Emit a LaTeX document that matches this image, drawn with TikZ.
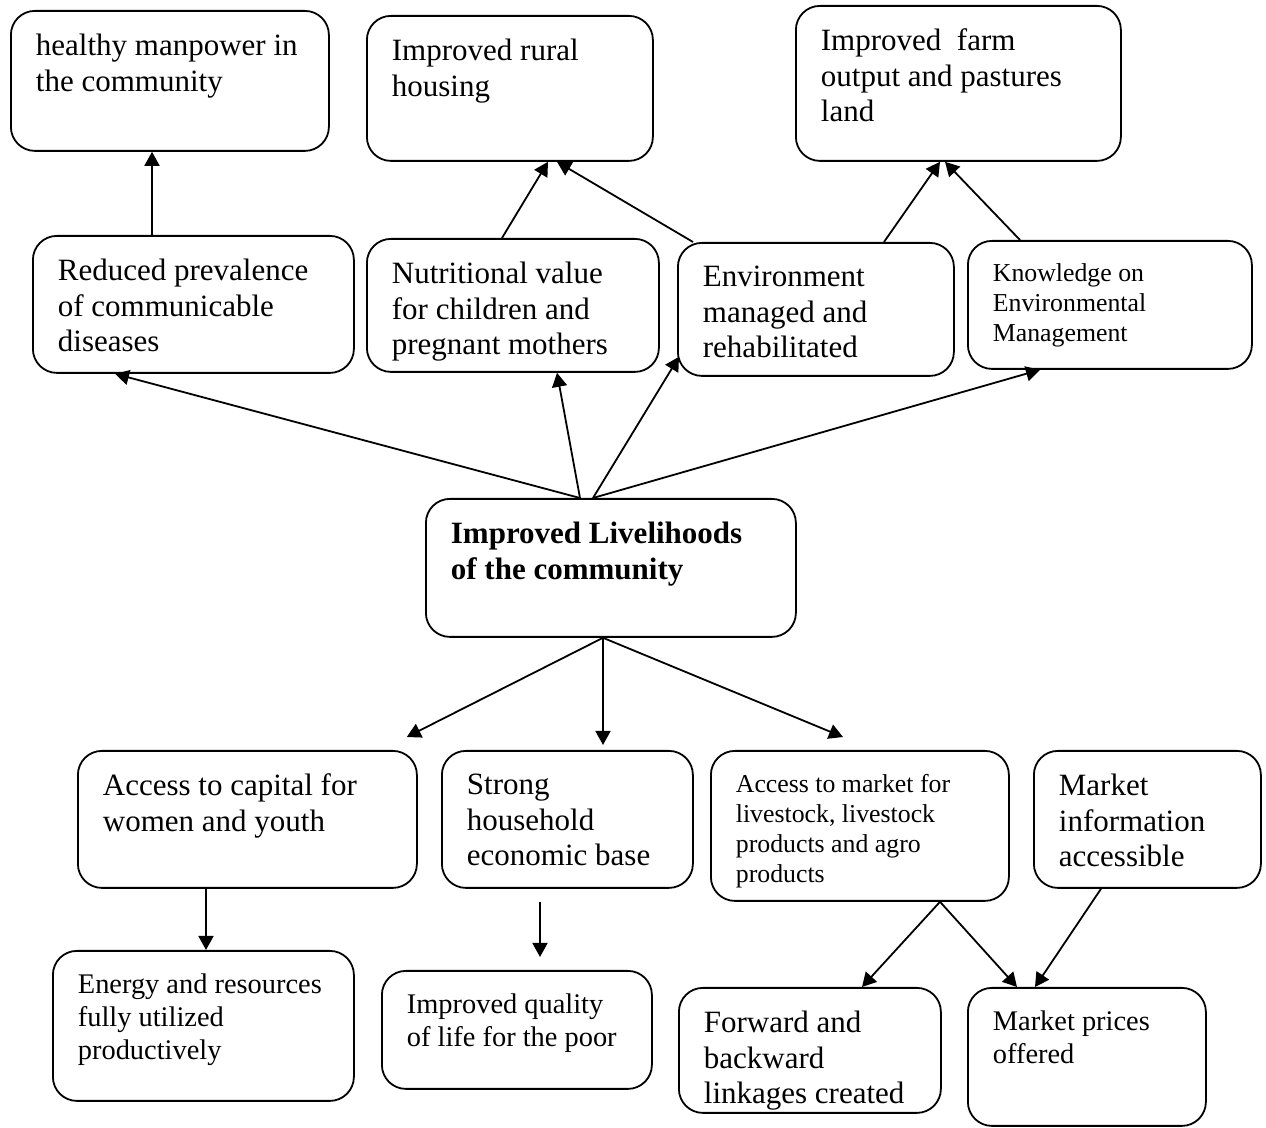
\documentclass[tikz,border=0pt]{standalone}
\usepackage{fontspec}
\setmainfont{Liberation Serif}
\usetikzlibrary{arrows.meta,calc}

\begin{document}
\begin{tikzpicture}[x=0.5pt,y=-0.5pt,
  box/.style 2 args={draw,line width=0.9pt,rounded corners=12pt,anchor=north west,
    inner xsep=12.5pt,inner ysep=11.5pt,
    execute at begin node={\begin{minipage}[c][#2][t]{#1}\raggedright},
    execute at end node={\end{minipage}}},
  big/.style={font=\fontsize{15.5}{17.8}\selectfont},
  mid/.style={font=\fontsize{14.2}{16.4}\selectfont},
  small/.style={font=\fontsize{12.9}{15}\selectfont},
  link/.style={-{Triangle[length=7pt,width=7.5pt]},line width=0.9pt}]
\useasboundingbox (0,0) rectangle (1266,1128);
% top row
\draw (10,10) node (b1) [box={134pt}{47pt},big] {healthy manpower in\newline the community};
\draw (366,15) node (b2) [box={118pt}{49.5pt},big] {Improved rural\newline housing};
\draw (795,5) node (b3) [box={137.5pt}{54.5pt},big] {Improved\ \ farm\newline output and pastures\newline land};
% second row
\draw (32,235) node (b4) [box={135.5pt}{45.5pt},big] {Reduced prevalence\newline of communicable\newline diseases};
\draw (366,238) node (b5) [box={121pt}{43.5pt},big] {Nutritional value\newline for children and\newline pregnant mothers};
\draw (677,242) node (b6) [box={113pt}{43.5pt},big] {Environment\newline managed and\newline rehabilitated};
\draw (967,240) node (b7) [box={117pt}{41pt},small] {Knowledge on\newline Environmental\newline Management};
% centre
\draw (425,498) node (b8) [box={160pt}{46pt},big,font=\fontsize{15.5}{17.8}\selectfont\bfseries] {Improved Livelihoods\newline of the community};
% third row
\draw (77,750) node (b9) [box={144.5pt}{45.5pt},big] {Access to capital for\newline women and youth};
\draw (441,750) node (b10) [box={100.5pt}{45.5pt},big] {Strong\newline household\newline economic base};
\draw (710,750) node (b11) [box={124pt}{52pt},small] {Access to market for\newline livestock, livestock\newline products and agro\newline products};
\draw (1033,750) node (b12) [box={88.5pt}{45.5pt},big] {Market\newline information\newline accessible};
% bottom row
\draw (52,950) node (b13) [box={125.5pt}{52pt},mid] {Energy and resources\newline fully utilized\newline productively};
\draw (381,970) node (b14) [box={110pt}{36pt},mid] {Improved quality\newline of life for the poor};
\draw (678,987) node (b15) [box={106pt}{39.5pt},big] {Forward and\newline backward\newline linkages created};
\draw (967,987) node (b16) [box={94pt}{46pt},mid] {Market prices\newline offered};
% links upwards
\draw[link] ($(b4.north west)+(120,0)$) -- ($(b1.south west)+(142,0)$);
\draw[link] ($(b5.north west)+(136,0)$) -- ($(b2.south west)+(182,0)$);
\draw[link] ($(b6.north west)+(16,0)$) -- ($(b2.south west)+(191,0)$);
\draw[link] ($(b6.north west)+(207,0)$) -- ($(b3.south west)+(145,0)$);
\draw[link] ($(b7.north west)+(53,0)$) -- ($(b3.south west)+(150,0)$);
\draw[link] ($(b8.north west)+(155,0)$) -- ($(b4.south west)+(83,0)$);
\draw[link] ($(b8.north west)+(155,0)$) -- ($(b5.south west)+(191,0)$);
\draw[link] ($(b8.north west)+(168,0)$) -- ($(b6.south west)+(2,-20)$);
\draw[link] ($(b8.north west)+(168,0)$) -- ($(b7.south west)+(73,0)$);
% links downwards
\draw[link] ($(b8.south west)+(178,0)$) -- ($(b9.north east)+(-11,-13)$);
\draw[link] ($(b8.south west)+(178,0)$) -- ($(b10.north west)+(162,-5)$);
\draw[link] ($(b8.south west)+(178,0)$) -- ($(b11.north west)+(133,-13)$);
\draw[link] ($(b9.south west)+(129,0)$) -- ($(b13.north west)+(154,0)$);
\draw[link] ($(b10.south west)+(99,13)$) -- ($(b14.north west)+(159,-13)$);
\draw[link] ($(b11.south west)+(230,0)$) -- ($(b15.north west)+(184,0)$);
\draw[link] ($(b11.south west)+(230,0)$) -- ($(b16.north west)+(50,0)$);
\draw[link] ($(b12.south west)+(68,0)$) -- ($(b16.north west)+(68,0)$);
\end{tikzpicture}
\end{document}
